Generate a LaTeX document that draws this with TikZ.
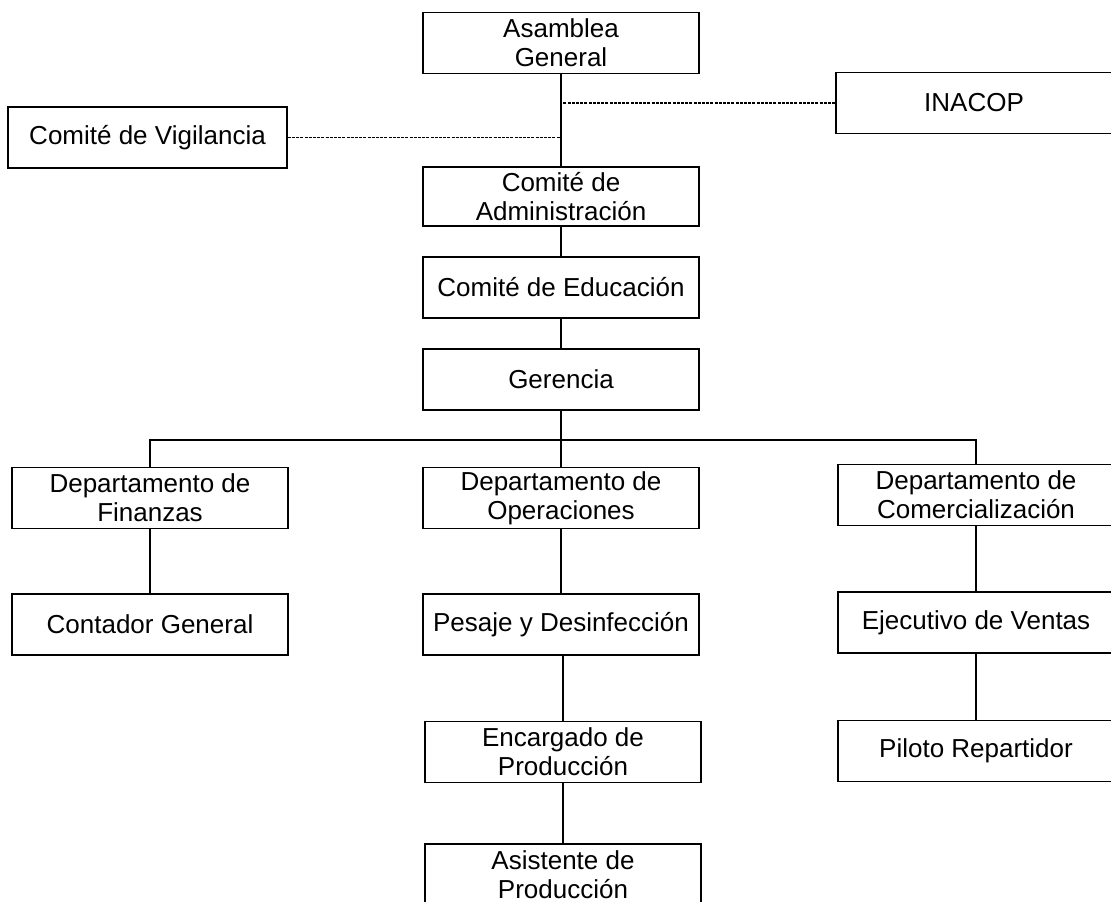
\documentclass[tikz,border=0pt]{standalone}
\usepackage{fontspec}
\setmainfont{Liberation Sans}
\begin{document}
\begin{tikzpicture}[x=0.5pt,y=-0.5pt,
  box/.style={draw, line width=0.8pt, minimum width=138pt, minimum height=30.5pt,
    inner sep=0pt, align=center, font=\fontsize{13}{14.6}\selectfont},
  link/.style={line width=0.75pt},
  dotlink/.style={line width=0.6pt, dash pattern=on 1.5pt off 0.6pt}]
\useasboundingbox (0,0) rectangle (1111,901);
\clip (0,0) rectangle (1111,901);

% governing bodies
\node[box] (asam) at (561,43) {Asamblea\\General};
\node[box] (inacop) at (974,103) {INACOP};
\node[box, minimum width=139.5pt] (vig) at (147.5,137.5) {Comité de Vigilancia};
\node[box, minimum height=29.5pt] (admin) at (561,196.5) {Comité de\\Administración};
\node[box] (educ) at (561,287.5) {Comité de Educación};
\node[box] (ger) at (561,379.5) {Gerencia};

% departments
\node[box] (fin) at (150,498) {Departamento de\\Finanzas};
\node[box] (ope) at (561,498) {Departamento de\\Operaciones};
\node[box] (com) at (976,495) {Departamento de\\Comercialización};

% staff
\node[box] (cont) at (150,624.5) {Contador General};
\node[box] (pes) at (561,624.5) {Pesaje y Desinfección};
\node[box] (eje) at (976,622.5) {Ejecutivo de Ventas};
\node[box] (enc) at (563,752) {Encargado de\\Producción};
\node[box] (pil) at (976,751) {Piloto Repartidor};
\node[box] (asis) at (563,874.5) {Asistente de\\Producción};

% connectors
\draw[link] (asam.south) -- (admin.north);
\draw[dotlink] (inacop.west) -- (inacop.west -| asam.south);
\draw[dotlink] (vig.east) -- (vig.east -| asam.south);
\draw[link] (admin) -- (educ);
\draw[link] (educ) -- (ger);
\coordinate (bus) at (561,440);
\draw[link] (ger.south) -- (ger.south |- bus);
\draw[link] (fin.north) -- (fin.north |- bus) -- (com.north |- bus) -- (com.north);
\draw[link] (ope.north) -- (ope.north |- bus);
\draw[link] (fin) -- (cont);
\draw[link] (ope) -- (pes);
\draw[link] (enc.north |- pes.south) -- (enc.north);
\draw[link] (enc) -- (asis);
\draw[link] (com) -- (eje);
\draw[link] (eje) -- (pil);
\end{tikzpicture}
\end{document}
